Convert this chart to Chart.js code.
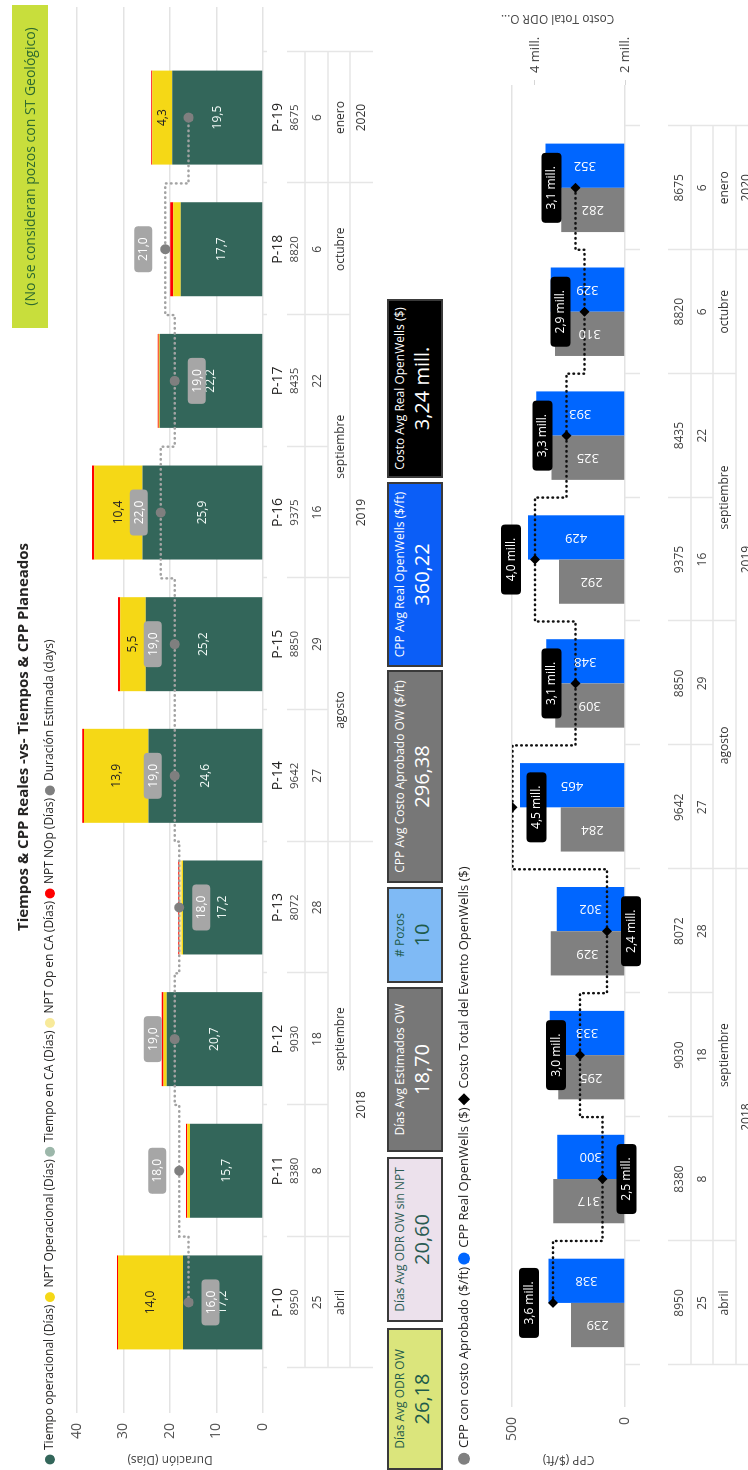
<!DOCTYPE html>
<html lang="es">
<head>
<meta charset="utf-8">
<title>Tiempos &amp; CPP Reales -vs- Tiempos &amp; CPP Planeados</title>
<script src="https://cdn.jsdelivr.net/npm/chart.js@4.4.1/dist/chart.umd.min.js"></script>
<style>
  html, body { margin: 0; padding: 0; background: #fff; }
  body { width: 748px; height: 1470px; overflow: hidden; position: relative; font-family: "Open Sans", sans-serif; }
  /* dashboard is laid out landscape and turned a quarter to the left */
  #page { position: absolute; left: 0; top: 0; width: 1470px; height: 748px; background: #fff;
          transform-origin: 0 0; transform: translate(0, 1470px) rotate(-90deg); }
  canvas { position: absolute; left: 0; }
  #timeChart { top: 0; }
  #cppChart { top: 450px; }
  .note { position: absolute; left: 1142px; top: 12px; width: 323px; height: 36px; background: #c8de3c;
          color: #2f6b2f; font-size: 14px; line-height: 36px; text-align: center; }
  .card { position: absolute; top: 387px; height: 56px; box-sizing: border-box; border: 2px solid #3a3a3a;
          text-align: center; overflow: hidden; }
  .card .t { font-size: 12px; line-height: 15px; margin-top: 3px; white-space: nowrap; }
  .card .v { font-size: 20px; line-height: 30px; white-space: nowrap; }
  .c0 { left: 0; width: 142px; background: #dbe57c; color: #1e5b4b; }
  .c1 { left: 148px; width: 165px; background: #ece1ec; color: #2a5b52; }
  .c2 { left: 318px; width: 165px; background: #777; color: #fff; }
  .c3 { left: 487px; width: 96px; background: #7fbaf5; color: #1e5b4b; }
  .c4 { left: 587px; width: 213px; background: #777; color: #fff; }
  .c5 { left: 803px; width: 185px; background: #0b5ef7; color: #fff; }
  .c6 { left: 992px; width: 179px; background: #000; color: #fff; }
</style>
</head>
<body>
<div id="page">
  <canvas id="timeChart" width="1470" height="385"></canvas>
  <div class="note">(No se consideran pozos con ST Geológico)</div>
  <div id="cards"></div>
  <canvas id="cppChart" width="1470" height="298"></canvas>
</div>
<script>
Chart.defaults.font.family = '"Open Sans", sans-serif';
Chart.defaults.color = '#555';

// pozos y jerarquía del eje
const wells   = ['P-10', 'P-11', 'P-12', 'P-13', 'P-14', 'P-15', 'P-16', 'P-17', 'P-18', 'P-19'];
const footage = ['8950', '8380', '9030', '8072', '9642', '8850', '9375', '8435', '8820', '8675'];
const days    = ['25', '8', '18', '28', '27', '29', '16', '22', '6', '6'];
const months  = ['abril', 'septiembre', 'septiembre', 'septiembre', 'agosto', 'agosto', 'septiembre', 'septiembre', 'octubre', 'enero'];
const years   = ['2018', '2018', '2018', '2018', '2019', '2019', '2019', '2019', '2019', '2020'];

// tiempos en días
const opTime  = [17.2, 15.7, 20.7, 17.2, 24.6, 25.2, 25.9, 22.2, 17.7, 19.5];
const nptOp   = [14.0, 0.6, 0.7, 0.35, 13.9, 5.5, 10.4, 0.2, 1.6, 4.3];
const caTime  = [0, 0, 0, 0, 0, 0, 0, 0, 0, 0];
const nptOpCa = [0, 0, 0, 0.4, 0, 0, 0, 0, 0, 0];
const nptNop  = [0.2, 0.25, 0.35, 0.3, 0.35, 0.5, 0.5, 0.25, 0.65, 0.25];
const estDays = [16.0, 18.0, 19.0, 18.0, 19.0, 19.0, 22.0, 19.0, 21.0, 16.0];

// CPP ($/ft) y costo total del evento (millones)
const cppPlan   = [239, 317, 295, 329, 284, 309, 292, 325, 310, 282];
const cppReal   = [338, 300, 333, 302, 465, 348, 429, 393, 329, 352];
const costTotal = [3.6, 2.5, 3.0, 2.4, 4.5, 3.1, 4.0, 3.3, 2.9, 3.1];
const costTicks = [2, 4];

// tarjetas
const kpiTitles = ['Días Avg ODR OW', 'Días Avg ODR OW sin NPT', 'Días Avg Estimados OW', '# Pozos',
                   'CPP Avg Costo Aprobado OW ($/ft)', 'CPP Avg Real OpenWells ($/ft)', 'Costo Avg Real OpenWells ($)'];
const kpiValues = ['26,18', '20,60', '18,70', '10', '296,38', '360,22', '3,24 mill.'];

const cards = document.getElementById('cards');
kpiTitles.forEach((t, i) => {
  const d = document.createElement('div');
  d.className = 'card c' + i;
  d.innerHTML = '<div class="t"></div><div class="v"></div>';
  d.querySelector('.t').textContent = t;
  d.querySelector('.v').textContent = kpiValues[i];
  cards.appendChild(d);
});

const xy = arr => arr.map((v, i) => ({ x: i, y: v }));
const fmt = v => v.toFixed(1).replace('.', ',');
const FONT = '"Open Sans", sans-serif';

function pill(ctx, x, y, w, h, r, fill) {
  ctx.beginPath();
  ctx.moveTo(x + r, y);
  ctx.arcTo(x + w, y, x + w, y + h, r);
  ctx.arcTo(x + w, y + h, x, y + h, r);
  ctx.arcTo(x, y + h, x, y, r);
  ctx.arcTo(x, y, x + w, y, r);
  ctx.closePath();
  ctx.fillStyle = fill;
  ctx.fill();
}

// extra space between legend and plot
function legendGap(gap) {
  return {
    id: 'legendGap',
    beforeLayout(chart) {
      const lg = chart.legend;
      if (!lg || lg._gapped) return;
      const fit = lg.fit;
      lg.fit = function () { fit.call(this); this.height += gap; };
      lg._gapped = true;
    }
  };
}

// hierarchical category axis (pozo / pies / día / mes / año)
function hierAxis(rows, tick, start) {
  return {
    id: 'hierAxis',
    afterDraw(chart) {
      const { ctx, chartArea } = chart;
      const x = chart.scales.x;
      const base = chartArea.bottom;
      const n = wells.length;
      const edge = i => Math.round(x.getPixelForValue(i - 0.5)) + 0.5;
      const seg = (x1, y1, x2, y2) => { ctx.beginPath(); ctx.moveTo(x1, y1); ctx.lineTo(x2, y2); ctx.stroke(); };
      const lined = rows.filter(r => r.bottom);
      ctx.save();
      ctx.strokeStyle = '#e6e6e6';
      ctx.lineWidth = 1.5;
      for (let i = 0; i <= n; i++) {
        const px = edge(i);
        seg(px, base, px, base + tick);
        let depth = 0;
        lined.forEach(r => {
          if (i === 0 || i === n || r.key(i) !== r.key(i - 1)) depth = Math.max(depth, r.bottom);
        });
        seg(px, base + start, px, base + depth);
      }
      lined.slice(0, -1).forEach(r => seg(edge(0), base + r.bottom, edge(n), base + r.bottom));
      ctx.textAlign = 'center';
      ctx.textBaseline = 'middle';
      rows.forEach(r => {
        ctx.font = r.size + 'px ' + FONT;
        ctx.fillStyle = r.color;
        let from = 0;
        for (let i = 1; i <= n; i++) {
          if (i === n || r.key(i) !== r.key(from)) {
            const cx = (x.getPixelForValue(from) + x.getPixelForValue(i - 1)) / 2;
            ctx.fillText(r.labels[from], cx, base + r.mid);
            from = i;
          }
        }
      });
      ctx.restore();
    }
  };
}

const byIndex = i => i;
const byMonth = i => years[i] + months[i];
const byYear = i => years[i];

// --- tiempos ---
const estBelow = [0, 3, 7];
const estHidden = [9];

const timeLabels = {
  id: 'timeLabels',
  afterDatasetsDraw(chart) {
    const { ctx } = chart;
    ctx.save();
    ctx.textAlign = 'center';
    ctx.textBaseline = 'middle';
    ctx.font = '12px ' + FONT;
    chart.getDatasetMeta(0).data.forEach((bar, i) => {
      ctx.fillStyle = '#f2faf7';
      ctx.fillText(fmt(opTime[i]), bar.x, (bar.y + bar.base) / 2);
    });
    chart.getDatasetMeta(1).data.forEach((bar, i) => {
      if (nptOp[i] < 2) return;
      ctx.fillStyle = '#252423';
      ctx.fillText(fmt(nptOp[i]), bar.x, (bar.y + bar.base) / 2);
    });
    chart.getDatasetMeta(5).data.forEach((pt, i) => {
      if (estHidden.includes(i)) return;
      const cy = pt.y + (estBelow.includes(i) ? 22 : -22);
      pill(ctx, pt.x - 23, cy - 9, 46, 18, 4, '#a6a6a6');
      ctx.fillStyle = '#fff';
      ctx.fillText(fmt(estDays[i]), pt.x, cy + 0.5);
    });
    ctx.restore();
  }
};

new Chart(document.getElementById('timeChart'), {
  data: {
    datasets: [
      { type: 'bar', label: 'Tiempo operacional (Días)', data: xy(opTime), backgroundColor: '#33665a', stack: 'real' },
      { type: 'bar', label: 'NPT Operacional (Días)', data: xy(nptOp), backgroundColor: '#f5d816', stack: 'real' },
      { type: 'bar', label: 'Tiempo en CA (Días)', data: xy(caTime), backgroundColor: '#9cb7aa', stack: 'real' },
      { type: 'bar', label: 'NPT Op en CA (Días)', data: xy(nptOpCa), backgroundColor: '#f8ea9a', stack: 'real' },
      { type: 'bar', label: 'NPT NOp (Días)', data: xy(nptNop), backgroundColor: '#ff0000', stack: 'real' },
      { type: 'line', label: 'Duración Estimada (days)', data: xy(estDays), stack: 'plan', order: -1,
        stepped: 'middle', borderColor: '#a3a3a3', borderWidth: 2.5, borderDash: [0.5, 4.5], borderCapStyle: 'round',
        pointRadius: 5, pointBackgroundColor: '#7f7f7f', pointBorderWidth: 0, backgroundColor: '#7f7f7f' }
    ]
  },
  options: {
    responsive: false,
    animation: false,
    devicePixelRatio: 1,
    datasets: { bar: { barPercentage: 0.85, categoryPercentage: 1 } },
    layout: { padding: { top: 0, right: 7, bottom: 122, left: 3 } },
    scales: {
      x: { type: 'linear', display: false, offset: false, min: -0.84, max: 9.84 },
      y: {
        stacked: true, min: 0, max: 40,
        ticks: { stepSize: 10, padding: 10, font: { size: 14 }, color: '#555' },
        grid: { color: '#e3e3e3', lineWidth: 1.5, drawTicks: false },
        border: { display: false },
        title: { display: true, text: 'Duración (Días)', font: { size: 12 }, color: '#444', padding: { top: 0, bottom: 0 } },
        afterFit: s => { s.width = 54; }
      }
    },
    plugins: {
      title: {
        display: true, text: 'Tiempos & CPP Reales -vs- Tiempos & CPP Planeados',
        font: { size: 15, weight: 'bold' }, color: '#252423', padding: { top: 15, bottom: 7 }
      },
      legend: {
        align: 'start',
        labels: {
          usePointStyle: true, boxWidth: 7, boxHeight: 7, padding: 4,
          font: { size: 12 }, color: '#252423',
          sort: (a, b) => a.datasetIndex - b.datasetIndex
        }
      },
      tooltip: { enabled: false }
    }
  },
  plugins: [legendGap(11), timeLabels, hierAxis([
    { labels: wells, key: byIndex, mid: 15, size: 14, color: '#252423' },
    { labels: footage, key: byIndex, mid: 32, bottom: 42, size: 11.5, color: '#444' },
    { labels: days, key: byIndex, mid: 55, bottom: 65, size: 12, color: '#444' },
    { labels: months, key: byMonth, mid: 78, bottom: 87, size: 12, color: '#333' },
    { labels: years, key: byYear, mid: 99, bottom: 110, size: 12, color: '#333' }
  ], 4, 24)]
});

// --- CPP ---
const costBelow = [1, 3, 4];

const cppLabels = {
  id: 'cppLabels',
  afterDatasetsDraw(chart) {
    const { ctx, chartArea } = chart;
    ctx.save();
    ctx.textAlign = 'center';
    ctx.textBaseline = 'middle';
    ctx.font = '13px ' + FONT;
    [[0, cppPlan], [1, cppReal]].forEach(([d, vals]) => {
      chart.getDatasetMeta(d).data.forEach((bar, i) => {
        ctx.save();
        ctx.translate(bar.x, (bar.y + bar.base) / 2);
        ctx.rotate(-Math.PI / 2);
        ctx.fillStyle = '#fff';
        ctx.fillText(String(vals[i]), 0, 0);
        ctx.restore();
      });
    });
    ctx.font = '12px ' + FONT;
    chart.getDatasetMeta(2).data.forEach((pt, i) => {
      const cy = pt.y + (costBelow.includes(i) ? 24 : -24);
      pill(ctx, pt.x - 35, cy - 10, 70, 20, 4, '#000');
      ctx.fillStyle = '#fff';
      ctx.fillText(fmt(costTotal[i]) + ' mill.', pt.x, cy + 0.5);
    });
    // right axis title, written upward like the left one
    ctx.save();
    ctx.translate(chart.width - 18, (chartArea.top + chartArea.bottom) / 2 - 11);
    ctx.rotate(-Math.PI / 2);
    ctx.fillStyle = '#444';
    ctx.fillText('Costo Total ODR O...', 0, 0);
    ctx.restore();
    ctx.restore();
  }
};

new Chart(document.getElementById('cppChart'), {
  data: {
    datasets: [
      { type: 'bar', label: 'CPP con costo Aprobado ($/ft)', data: xy(cppPlan), backgroundColor: '#808080', yAxisID: 'y' },
      { type: 'bar', label: 'CPP Real OpenWells ($)', data: xy(cppReal), backgroundColor: '#0066ff', yAxisID: 'y' },
      { type: 'line', label: 'Costo Total del Evento OpenWells ($)', data: xy(costTotal), yAxisID: 'y1', order: -1,
        stepped: 'middle', borderColor: '#111', borderWidth: 2.5, borderDash: [0.5, 4.5], borderCapStyle: 'round',
        pointStyle: 'rectRot', pointRadius: 5, pointBackgroundColor: '#000', pointBorderWidth: 0, backgroundColor: '#000' }
    ]
  },
  options: {
    responsive: false,
    animation: false,
    devicePixelRatio: 1,
    datasets: { bar: { barPercentage: 1, categoryPercentage: 0.85 } },
    layout: { padding: { top: 3.5, right: 0, bottom: 123, left: 3 } },
    scales: {
      x: { type: 'linear', display: false, offset: false, min: -0.84, max: 9.83 },
      y: {
        min: 0, max: 500,
        ticks: { stepSize: 500, padding: 10, font: { size: 14 }, color: '#555' },
        grid: { color: '#e3e3e3', lineWidth: 1.5, drawTicks: false },
        border: { display: false },
        title: { display: true, text: 'CPP ($/ft)', font: { size: 12 }, color: '#444', padding: { top: 0, bottom: 0 } },
        afterFit: s => { s.width = 60; }
      },
      y1: {
        position: 'right', min: 2, max: 4.51,
        afterBuildTicks: s => { s.ticks = costTicks.map(v => ({ value: v })); },
        ticks: { padding: 7, font: { size: 13 }, color: '#444', callback: v => v + ' mill.' },
        grid: { drawOnChartArea: false, drawTicks: true, tickLength: 5, color: '#d6d6d6' },
        border: { display: false },
        afterFit: s => { s.width = 85; }
      }
    },
    plugins: {
      legend: {
        align: 'start',
        labels: {
          usePointStyle: true, boxWidth: 8.5, boxHeight: 8.5, padding: 4,
          font: { size: 13 }, color: '#252423',
          sort: (a, b) => a.datasetIndex - b.datasetIndex
        }
      },
      tooltip: { enabled: false }
    }
  },
  plugins: [legendGap(31.5), cppLabels, hierAxis([
    { labels: footage, key: byIndex, mid: 55, bottom: 66, size: 12, color: '#444' },
    { labels: days, key: byIndex, mid: 78, bottom: 88, size: 12, color: '#444' },
    { labels: months, key: byMonth, mid: 100, bottom: 111, size: 12, color: '#333' },
    { labels: years, key: byYear, mid: 122, bottom: 134, size: 12, color: '#333' }
  ], 15, 43)]
});
</script>
</body>
</html>
